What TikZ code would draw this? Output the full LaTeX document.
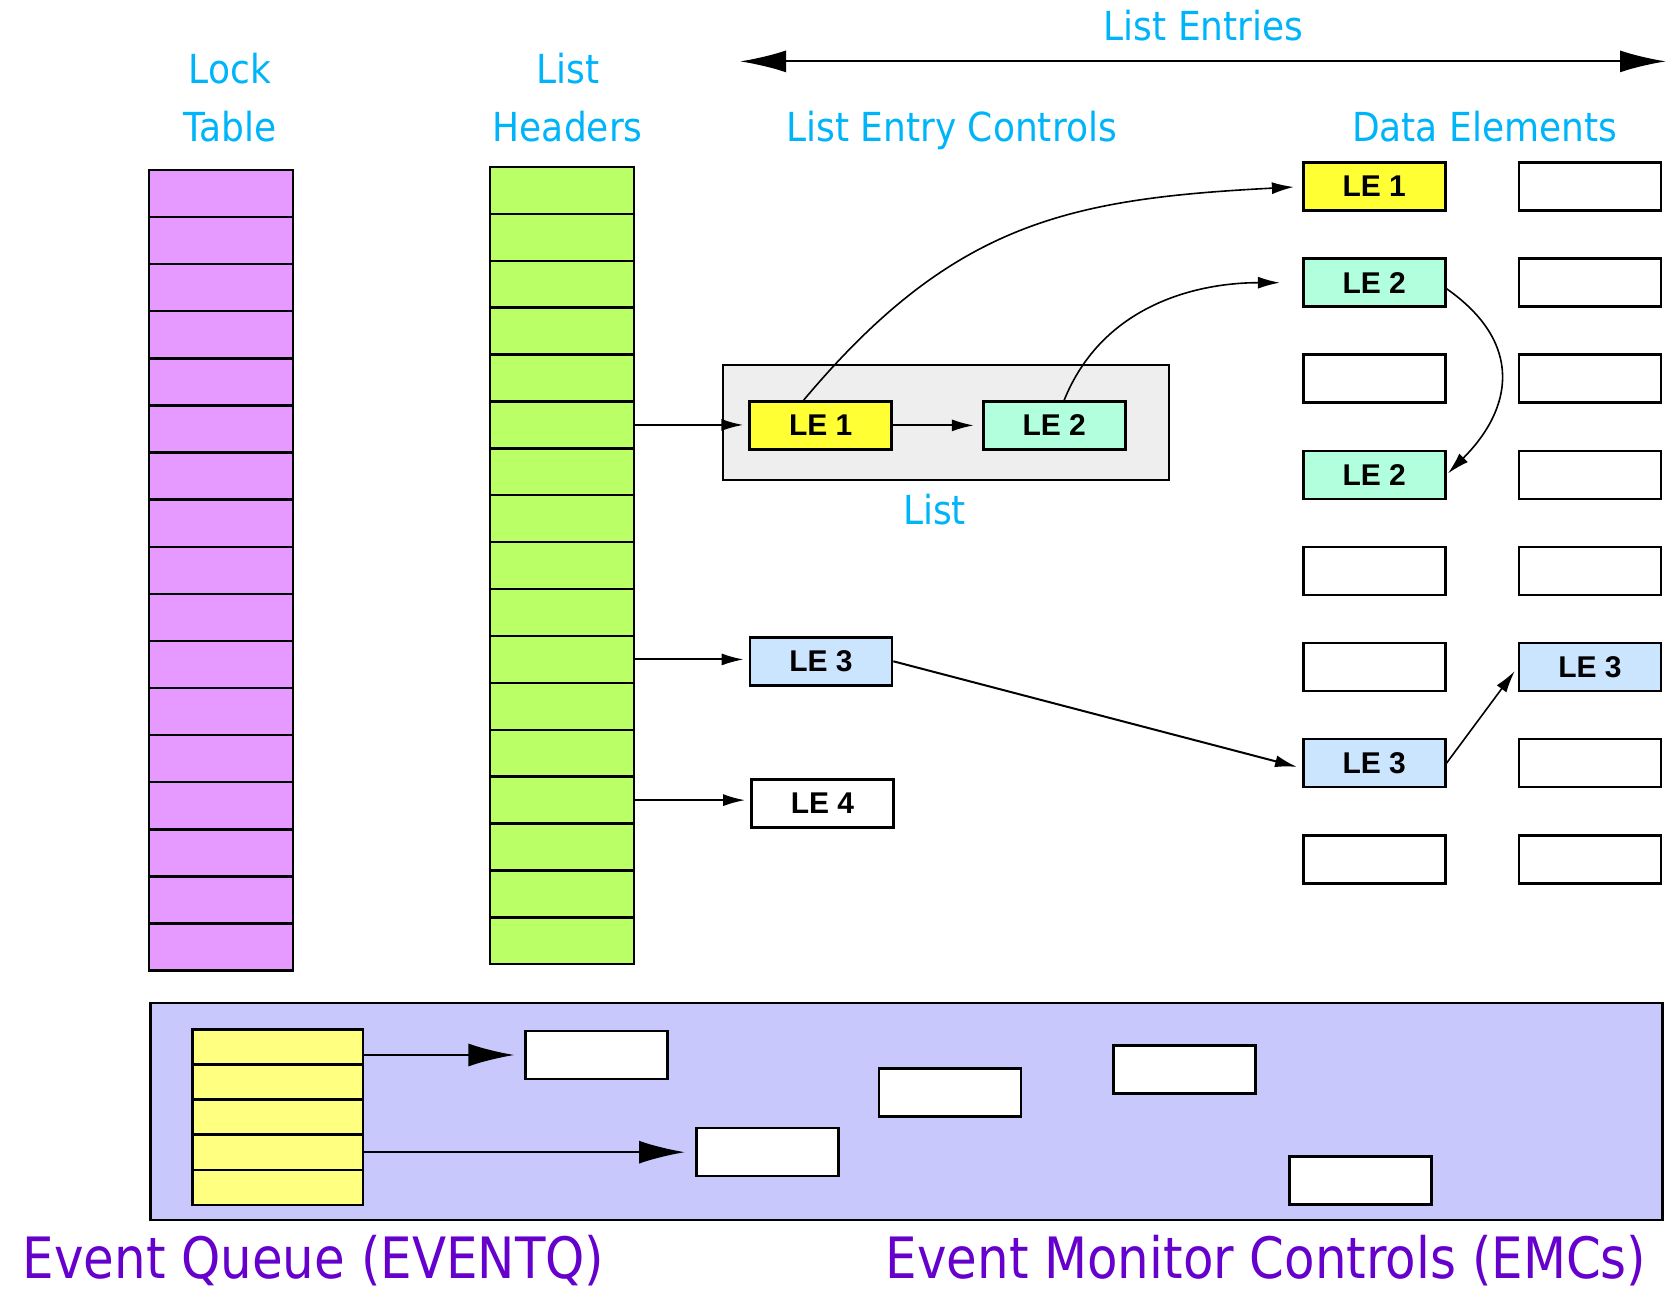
\documentclass[tikz,border=0pt]{standalone}
\usepackage{fontspec}
\usepackage{tikz}
\usetikzlibrary{arrows.meta}
\setmainfont{DejaVu Sans}
\newfontfamily\headfont{DejaVu Sans}[FakeStretch=0.9]
\newfontfamily\titlefont{DejaVu Sans}[FakeStretch=0.875]
\newfontfamily\lefont{Liberation Sans}
\definecolor{headblue}{RGB}{0,180,250}
\definecolor{emcpurple}{RGB}{102,0,204}
\definecolor{lockpink}{RGB}{230,153,255}
\definecolor{hdrgreen}{RGB}{187,255,102}
\definecolor{leyellow}{RGB}{255,255,51}
\definecolor{lemint}{RGB}{178,255,221}
\definecolor{leblue}{RGB}{204,229,255}
\definecolor{listgray}{RGB}{238,238,238}
\definecolor{panelblue}{RGB}{200,200,252}
\definecolor{queueyellow}{RGB}{255,255,128}

\begin{document}
\begin{tikzpicture}[x=1pt,y=1pt,
    cell/.style={draw, line width=2.6pt, minimum width=142pt, minimum height=48pt, inner sep=0pt,
      font=\lefont\bfseries\fontsize{30}{30}\selectfont},
    lockrow/.style={draw, line width=2.4pt, fill=lockpink, minimum width=144pt, minimum height=47.1pt, inner sep=0pt},
    hdrrow/.style={draw, line width=2.4pt, fill=hdrgreen, minimum width=143.5pt, minimum height=46.9pt, inner sep=0pt},
    qrow/.style={draw, line width=2.4pt, fill=queueyellow, minimum width=170.5pt, minimum height=35.1pt, inner sep=0pt},
    heading/.style={text=headblue, anchor=base, inner sep=0pt, font=\headfont\fontsize{40}{40}\selectfont},
    bigtitle/.style={text=emcpurple, anchor=base, inner sep=0pt, font=\titlefont\fontsize{57}{57}\selectfont},
    arr/.style={-{Latex[length=22pt,width=12pt]}, line width=2pt, shorten >=5pt},
    bigarr/.style={-{Latex[length=46pt,width=23pt]}, line width=2.2pt, shorten >=10pt}]
    \useasboundingbox (0,0) rectangle (1666,1295);

    % Lock Table
    \node[heading] (lockA) at (230,1211) {Lock};
    \node[heading] (lockB) at (230,1153) {Table};
    \foreach \i in {1,...,17}
        \node[lockrow] (lock\i) at (221,{1125-47.1*(\i-0.5)}) {};

    % List Headers
    \node[heading] (hdrA) at (567.7,1211) {List};
    \node[heading] (hdrB) at (567.7,1153) {Headers};
    \foreach \i in {1,...,17}
        \node[hdrrow] (hdr\i) at (562,{1128-46.9*(\i-0.5)}) {};

    % List Entries
    \node[heading] (entries) at (1203.7,1254.6) {List Entries};
    \coordinate (entL) at (740,1233.6);
    \coordinate (entR) at (1666,1233.6);
    \draw[{Latex[length=46pt,width=22pt]}-{Latex[length=46pt,width=22pt]}, line width=2.2pt] (entL) -- (entR);
    \node[heading] (lec) at (951.6,1153) {List Entry Controls};
    \node[heading] (delem) at (1484.6,1153) {Data Elements};

    % List Entry Controls
    \node[draw, line width=2.4pt, fill=listgray, minimum width=446pt, minimum height=115pt] (listbox) at (946.1,872.2) {};
    \node[heading] (listlbl) at (934.6,770) {List};
    \node[cell, fill=leyellow] (le1) at (820.7,869.6) {LE 1};
    \node[cell, fill=lemint] (le2) at (1054.2,869.6) {LE 2};
    \node[cell, fill=leblue] (le3) at (821,633.7) {LE 3};
    \node[cell, fill=white] (le4) at (822.5,491.5) {LE 4};

    % Data Elements
    \foreach \r/\fa/\ta/\fb/\tb in {1/leyellow/{LE 1}/white/{}, 2/lemint/{LE 2}/white/{},
        3/white/{}/white/{}, 4/lemint/{LE 2}/white/{}, 5/white/{}/white/{},
        6/white/{}/leblue/{LE 3}, 7/leblue/{LE 3}/white/{}, 8/white/{}/white/{}} {
        \node[cell, fill=\fa] (deA\r) at (1374.2,{1108.4-96.1*(\r-1)}) {\ta};
        \node[cell, fill=\fb] (deB\r) at (1590,{1108.4-96.1*(\r-1)}) {\tb};
    }

    % Arrows
    \draw[arr] (hdr6.east) -- (hdr6.east -| le1.west);
    \draw[arr] (hdr11.east) -- (hdr11.east -| le3.west);
    \draw[arr] (hdr14.east) -- (hdr14.east -| le4.west);
    \draw[arr, shorten >=8pt] (le1.east) -- (le1.east -| le2.west);
    \draw[arr, line width=1.6pt, shorten >=8pt] ([xshift=-17pt]le1.north) to[out=50,in=183,looseness=1.1] (deA1.west);
    \draw[arr, line width=1.6pt, shorten >=22pt] ([xshift=10pt]le2.north) to[out=68,in=180] (deA2.west);
    \draw[arr, line width=1.6pt, shorten >=2pt] ([yshift=-6pt]deA2.east) to[out=-35,in=45,looseness=1.3] (deA4.east);
    \draw[arr] (le3.east) -- ([yshift=-5pt]deA7.west);
    \draw[arr, line width=1.6pt] (deA7.east) -- (deB6.west);

    % Event Queue and Event Monitor Controls
    \node[draw, line width=2.4pt, fill=panelblue, minimum width=1512pt, minimum height=217pt] (panel) at (906.4,183.3) {};
    \foreach \i in {1,...,5}
        \node[qrow] (q\i) at (277.8,{265.7-35.14*(\i-0.5)}) {};
    \node[cell, fill=white] (emcA) at (596.7,240) {};
    \node[cell, fill=white] (emcB) at (950.1,202.2) {};
    \node[cell, fill=white] (emcC) at (1184.4,225.5) {};
    \node[cell, fill=white] (emcD) at (767.3,142.8) {};
    \node[cell, fill=white] (emcE) at (1360.3,114.7) {};
    \draw[bigarr] (q1.east |- emcA.west) -- (emcA.west);
    \draw[bigarr] (q4.east |- emcD.west) -- (emcD.west);
    \node[bigtitle] (eventq) at (313.5,16) {Event Queue (EVENTQ)};
    \node[bigtitle] (emcs) at (1266,16) {Event Monitor Controls (EMCs)};
\end{tikzpicture}
\end{document}
